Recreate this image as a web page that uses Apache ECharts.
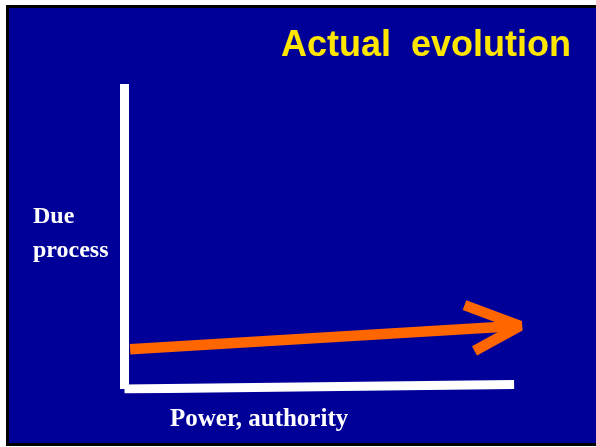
<!DOCTYPE html>
<html>
<head>
<meta charset="utf-8">
<script src="https://cdn.jsdelivr.net/npm/echarts@6/dist/echarts.min.js"></script>
<style>
  html, body { margin: 0; padding: 0; background: #fff; }
  #chart { width: 596px; height: 447px; }
</style>
</head>
<body>
<div id="chart"></div>
<script>
// axes and arrow, in chart units (power 0..10, due process 0..10)
const powerAxis = [[0, 0], [9.74, 0.15]]
const dueAxis = [[0, 0], [0, 10]]
const arrowShaft = [[0.14, 1.3], [9.89, 2.07]]
const arrowHead = [[8.5, 2.75], [9.89, 2.07], [8.75, 1.25]]

const titleText = 'Actual  evolution'
const yLabel = 'Due\nprocess'
const xLabel = 'Power, authority'

const blue = '#000099'
const orange = '#FF6600'

let chart = echarts.init(document.getElementById('chart'))

function lineSeries(data, color, width, join) {
    return {
        type: 'line',
        data: data,
        symbol: 'none',
        silent: true,
        lineStyle: {
            color: color,
            width: width,
            cap: 'butt',
            join: join
        }
    }
}

let option = {
    animation: false,
    backgroundColor: '#fff',
    grid: {
        left: 124.5,
        top: 84,
        width: 400,
        height: 305
    },
    xAxis: { type: 'value', min: 0, max: 10, show: false },
    yAxis: { type: 'value', min: 0, max: 10, show: false },
    graphic: [
        {
            type: 'rect',
            z: -10,
            shape: { x: 7.5, y: 6.5, width: 620, height: 438 },
            style: { fill: blue, stroke: '#000', lineWidth: 3 }
        },
        {
            type: 'text',
            z: 100,
            style: {
                text: titleText,
                x: 571,
                y: 46,
                align: 'right',
                verticalAlign: 'middle',
                fill: '#FFE600',
                font: 'bold 36px "Liberation Sans", Arial, sans-serif'
            }
        },
        {
            type: 'text',
            z: 100,
            style: {
                text: yLabel,
                x: 33,
                y: 234,
                align: 'left',
                verticalAlign: 'middle',
                lineHeight: 34,
                fill: '#fff',
                font: 'bold 24px "Liberation Serif", "Times New Roman", serif'
            }
        },
        {
            type: 'text',
            z: 100,
            style: {
                text: xLabel,
                x: 170,
                y: 420,
                align: 'left',
                verticalAlign: 'middle',
                fill: '#fff',
                font: 'bold 25px "Liberation Serif", "Times New Roman", serif'
            }
        }
    ],
    series: [
        lineSeries(dueAxis, '#fff', 9, 'miter'),
        lineSeries(powerAxis, '#fff', 9, 'miter'),
        lineSeries(arrowShaft, orange, 10.5, 'miter'),
        lineSeries(arrowHead, orange, 10.5, 'bevel')
    ]
}

chart.setOption(option)
</script>
</body>
</html>
